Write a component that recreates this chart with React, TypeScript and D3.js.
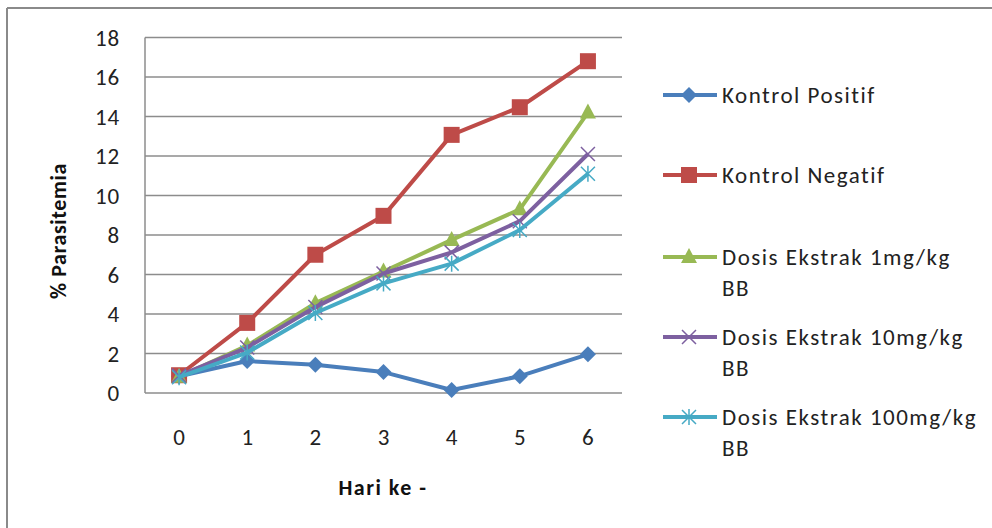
import React from 'react'
import * as d3 from 'd3'

const days = ['0', '1', '2', '3', '4', '5', '6']
const yTicks = [0, 2, 4, 6, 8, 10, 12, 14, 16, 18]

const kontrolPositif = [0.85, 1.62, 1.43, 1.06, 0.15, 0.85, 1.96]
const kontrolNegatif = [0.9, 3.55, 7.0, 8.97, 13.07, 14.47, 16.8]
const dosis1 = [0.82, 2.4, 4.55, 6.15, 7.75, 9.3, 14.2]
const dosis10 = [0.88, 2.3, 4.35, 6.05, 7.12, 8.7, 12.1]
const dosis100 = [0.8, 2.05, 4.05, 5.55, 6.55, 8.25, 11.1]

const seriesNames = [
	['Kontrol Positif'],
	['Kontrol Negatif'],
	['Dosis Ekstrak 1mg/kg', 'BB'],
	['Dosis Ekstrak 10mg/kg', 'BB'],
	['Dosis Ekstrak 100mg/kg', 'BB'],
]
const seriesValues = [kontrolPositif, kontrolNegatif, dosis1, dosis10, dosis100]
const colors = ['#4A7EBB', '#BE4B48', '#98B954', '#7D60A0', '#46AAC5']
const markers = ['diamond', 'square', 'triangle', 'x', 'star']

const font = 'Carlito, Lato, sans-serif'

const Marker = ({ kind, x, y, color }: { kind: string; x: number; y: number; color: string }) => {
	if (kind === 'diamond') {
		return <path d={`M${x},${y - 8}L${x + 8},${y}L${x},${y + 8}L${x - 8},${y}Z`} fill={color} />
	}
	if (kind === 'square') {
		return <rect x={x - 8} y={y - 8} width={16} height={16} fill={color} />
	}
	if (kind === 'triangle') {
		return <path d={`M${x},${y - 9}L${x + 8},${y + 6}L${x - 8},${y + 6}Z`} fill={color} />
	}
	if (kind === 'x') {
		return (
			<path
				d={`M${x - 7},${y - 7}L${x + 7},${y + 7}M${x - 7},${y + 7}L${x + 7},${y - 7}`}
				stroke={color}
				strokeWidth={1.5}
				fill="none"
			/>
		)
	}
	return (
		<path
			d={`M${x - 7},${y - 7}L${x + 7},${y + 7}M${x - 7},${y + 7}L${x + 7},${y - 7}M${x},${y - 8}L${x},${y + 8}`}
			stroke={color}
			strokeWidth={1.5}
			fill="none"
		/>
	)
}

const App = () => {
	const x = d3.scaleBand().domain(days).range([145, 622])
	const y = d3.scaleLinear().domain([0, 18]).range([393, 37.5])
	const cx = (i: number) => x(days[i])! + x.bandwidth() / 2

	const line = d3
		.line<number>()
		.x((_, i) => cx(i))
		.y((d) => y(d))

	const legendY = [95, 175, 257, 337, 417]

	return (
		<svg
			width={992}
			height={528}
			style={{ position: 'absolute', left: 0, top: 0, background: '#fff' }}
			fontFamily={font}
		>
			<rect width={992} height={528} fill="#fff" />
			{/* frame, only top and left show */}
			<line x1={7} x2={992} y1={8} y2={8} stroke="#8a8a8a" strokeWidth={2} />
			<line x1={7} x2={7} y1={8} y2={528} stroke="#8a8a8a" strokeWidth={2} />

			{yTicks.map((t) => (
				<g key={t}>
					<line x1={145} x2={622} y1={y(t)} y2={y(t)} stroke="#8c8c8c" strokeWidth={1.5} />
					<text x={120} y={y(t)} dy="0.35em" textAnchor="end" fontSize={23} letterSpacing={0.8} fill="#222">
						{t}
					</text>
				</g>
			))}
			<line x1={145} x2={145} y1={y(18)} y2={y(0)} stroke="#8c8c8c" strokeWidth={1.5} />

			{days.map((d, i) => (
				<text key={d} x={cx(i)} y={437} dy="0.35em" textAnchor="middle" fontSize={23} fill="#222">
					{d}
				</text>
			))}

			<text x={383} y={495} textAnchor="middle" fontSize={22} letterSpacing={1.5} fontWeight="bold" fill="#111">
				Hari ke -
			</text>
			<text
				transform="translate(66,231) rotate(-90)"
				textAnchor="middle"
				fontSize={22}
				letterSpacing={0.6}
				fontWeight="bold"
				fill="#111"
			>
				% Parasitemia
			</text>

			{seriesValues.map((vals, s) => (
				<g key={s}>
					<path d={line(vals)!} fill="none" stroke={colors[s]} strokeWidth={4} strokeLinejoin="round" />
					{vals.map((v, i) => (
						<Marker key={i} kind={markers[s]} x={cx(i)} y={y(v)} color={colors[s]} />
					))}
				</g>
			))}

			{seriesNames.map((name, s) => (
				<g key={s}>
					<line x1={663} x2={717} y1={legendY[s]} y2={legendY[s]} stroke={colors[s]} strokeWidth={4} />
					<Marker kind={markers[s]} x={689} y={legendY[s]} color={colors[s]} />
					{name.map((ln, k) => (
						<text
							key={k}
							x={722}
							y={legendY[s] + k * 31}
							dy="0.35em"
							fontSize={23}
							letterSpacing={1.5}
							fill="#222"
						>
							{ln}
						</text>
					))}
				</g>
			))}
		</svg>
	)
}

export default App
